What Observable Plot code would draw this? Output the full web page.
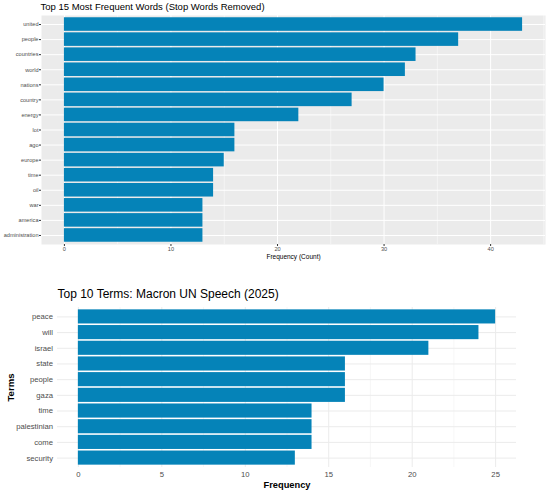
<!DOCTYPE html>
<html>
<head>
<meta charset="utf-8">
<script src="https://cdn.jsdelivr.net/npm/d3@7"></script>
<script src="https://cdn.jsdelivr.net/npm/@observablehq/plot@0.6"></script>
<style>
  html, body { margin: 0; padding: 0; background: #fff; }
  #wrap { position: relative; width: 550px; height: 495px; overflow: hidden; font-family: "Liberation Sans", Arial, sans-serif; }
  #c1 { position: absolute; left: 0; top: 0; }
  #c2 { position: absolute; left: 0; top: 280px; }
</style>
</head>
<body>
<div id="wrap"><div id="c1"></div><div id="c2"></div></div>
<script>
// Chart 1 data
const words1 = ["united","people","countries","world","nations","country","energy","lot","ago","europe","time","oil","war","america","administration"];
const counts1 = [43, 37, 33, 32, 30, 27, 22, 16, 16, 15, 14, 14, 13, 13, 13];
const ticks1 = [0, 10, 20, 30, 40];
const minor1 = [5, 15, 25, 35, 45];
const title1 = "Top 15 Most Frequent Words (Stop Words Removed)";
const xlabel1 = "Frequency (Count)";

// Chart 2 data
const terms2 = ["peace","will","israel","state","people","gaza","time","palestinian","come","security"];
const counts2 = [25, 24, 21, 16, 16, 16, 14, 14, 14, 13];
const ticks2 = [0, 5, 10, 15, 20, 25];
const minor2 = [2.5, 7.5, 12.5, 17.5, 22.5];
const title2 = "Top 10 Terms: Macron UN Speech (2025)";
const xlabel2 = "Frequency";
const ylabel2 = "Terms";

const barColor = "#0583B8";
const font = "Liberation Sans, Arial, sans-serif";

const data1 = words1.map((w, i) => ({word: w, n: counts1[i]}));
const data2 = terms2.map((w, i) => ({term: w, n: counts2[i]}));

const p1 = Plot.plot({
  width: 550, height: 265,
  marginLeft: 41, marginRight: 5, marginTop: 15, marginBottom: 21,
  style: {fontFamily: font, background: "white", overflow: "visible"},
  x: {domain: [-2.15, 45.15], label: null},
  y: {domain: words1, paddingInner: 0.1, paddingOuter: 0.15, round: false, label: null},
  marks: [
    Plot.frame({fill: "#EBEBEB", stroke: null}),
    Plot.ruleX(minor1, {stroke: "white", strokeWidth: 0.5}),
    Plot.gridX({ticks: ticks1, stroke: "white", strokeOpacity: 1, strokeWidth: 1}),
    Plot.gridY({stroke: "white", strokeOpacity: 1, strokeWidth: 1}),
    Plot.barX(data1, {x: "n", y: "word", fill: barColor}),
    Plot.axisX({ticks: ticks1, tickSize: 2, tickPadding: 1, fontSize: 5.6, fill: "#4D4D4D", stroke: "#333", label: null}),
    Plot.axisY({tickSize: 2, tickPadding: 1, fontSize: 5.6, fill: "#4D4D4D", stroke: "#333", label: null}),
    Plot.text([title1], {text: d => d, frameAnchor: "top-left", dx: -1, dy: -12, fontSize: 9.5, fill: "black", textAnchor: "start", lineAnchor: "top"}),
    Plot.text([xlabel1], {text: d => d, frameAnchor: "bottom", dy: 10, fontSize: 6.5, fill: "black", lineAnchor: "top"})
  ]
});
document.getElementById("c1").appendChild(p1);

const p2 = Plot.plot({
  width: 550, height: 215,
  marginLeft: 57, marginRight: 34, marginTop: 27, marginBottom: 28,
  style: {fontFamily: font, background: "white", overflow: "visible"},
  x: {domain: [-1.25, 26.25], label: null},
  y: {domain: terms2, paddingInner: 0.1, paddingOuter: 0.15, round: false, label: null},
  marks: [
    Plot.ruleX(minor2, {stroke: "#F2F2F2", strokeWidth: 0.6}),
    Plot.gridX({ticks: ticks2, stroke: "#EBEBEB", strokeOpacity: 1, strokeWidth: 1}),
    Plot.gridY({stroke: "#EBEBEB", strokeOpacity: 1, strokeWidth: 1}),
    Plot.barX(data2, {x: "n", y: "term", fill: barColor}),
    Plot.axisX({ticks: ticks2, tickSize: 0, tickPadding: 4, fontSize: 7.7, fill: "#4D4D4D", label: null}),
    Plot.axisY({tickSize: 0, tickPadding: 4.5, fontSize: 7.7, fill: "#4D4D4D", label: null}),
    Plot.text([title2], {text: d => d, frameAnchor: "top-left", dx: 0, dy: -18, fontSize: 12, fill: "black", textAnchor: "start", lineAnchor: "top"}),
    Plot.text([xlabel2], {text: d => d, frameAnchor: "bottom", dy: 14, fontSize: 9.3, fontWeight: "bold", fill: "black", lineAnchor: "top"}),
    Plot.text([ylabel2], {text: d => d, frameAnchor: "left", dx: -47, rotate: -90, fontSize: 9.6, fontWeight: "bold", fill: "black", textAnchor: "middle"})
  ]
});
document.getElementById("c2").appendChild(p2);
</script>
</body>
</html>
